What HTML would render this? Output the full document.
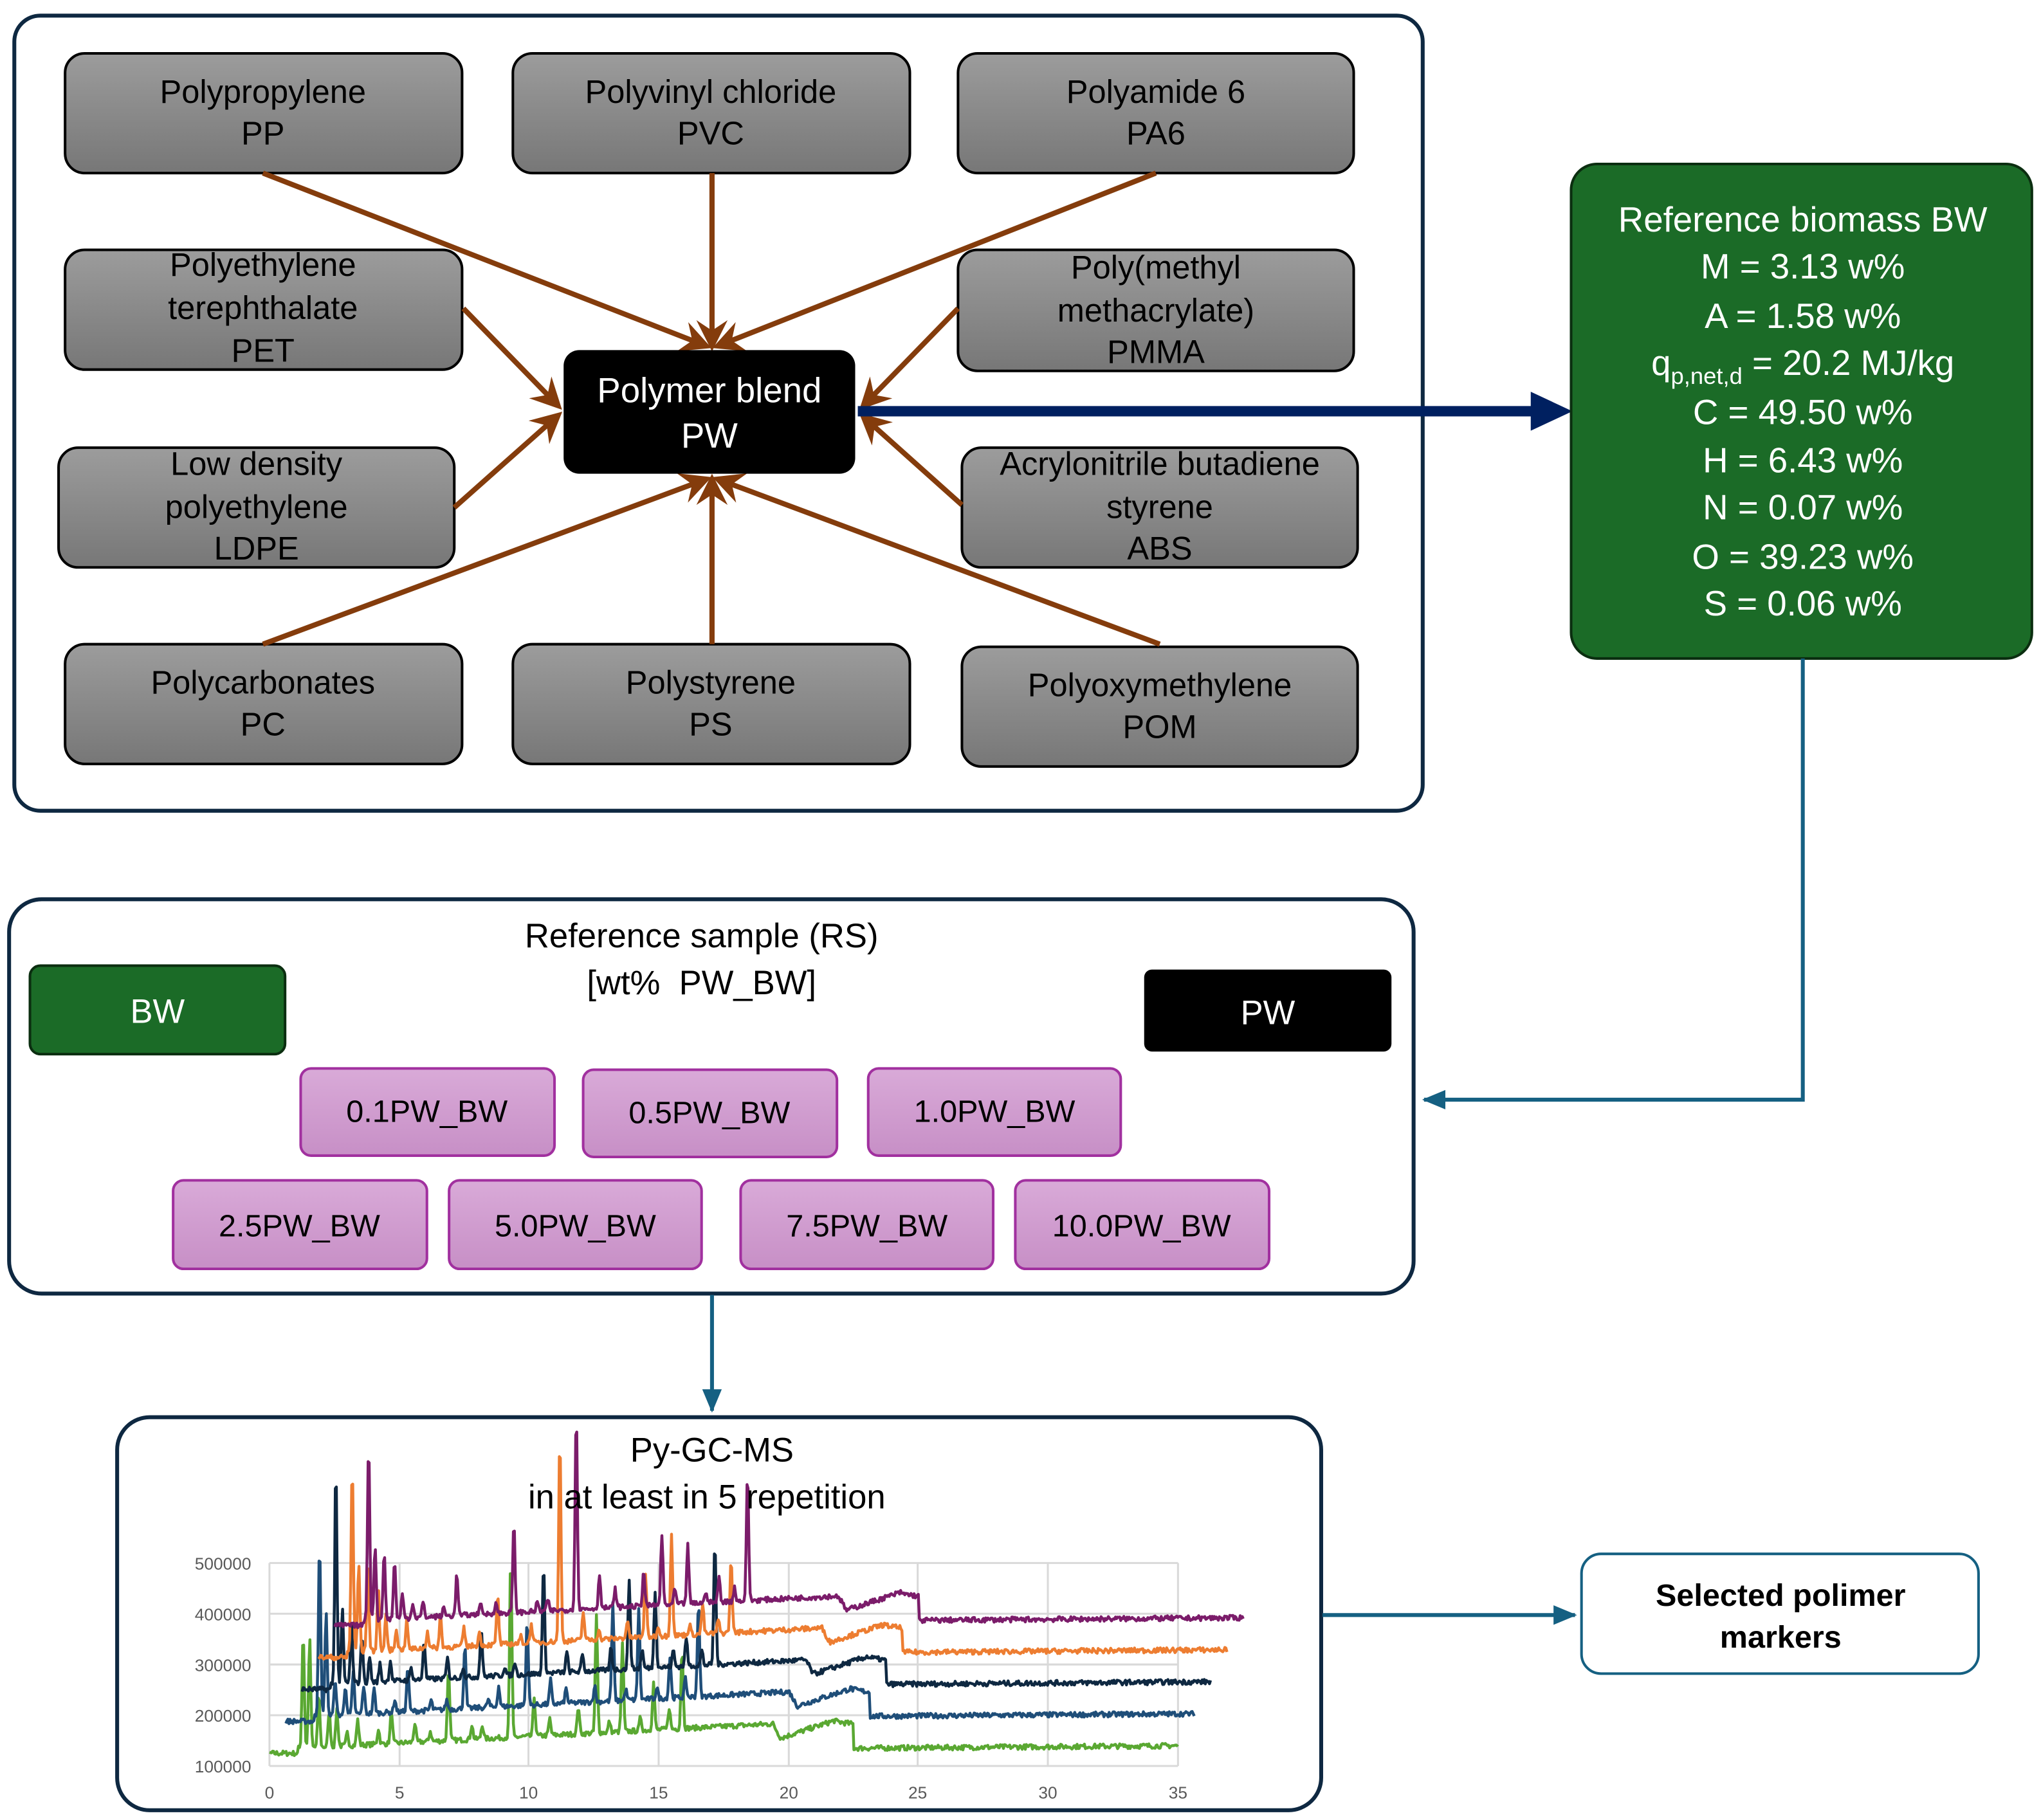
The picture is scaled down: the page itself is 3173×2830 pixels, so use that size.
<!DOCTYPE html>
<html><head><meta charset="utf-8"><style>
html,body{margin:0;padding:0;background:#fff;}
svg{display:block;}
text{font-family:"Liberation Sans",sans-serif;}
</style></head><body>
<svg id="s" width="3173" height="2830" viewBox="0 0 1568 1398.5" xmlns="http://www.w3.org/2000/svg">
<defs>
<linearGradient id="g" x1="0" y1="0" x2="0" y2="1"><stop offset="0" stop-color="#9c9c9c"/><stop offset="1" stop-color="#777"/></linearGradient>
<linearGradient id="pk" x1="0" y1="0" x2="0" y2="1"><stop offset="0" stop-color="#d9aad8"/><stop offset="1" stop-color="#c78fc6"/></linearGradient>
<marker id="ab" markerWidth="6" markerHeight="6" refX="5" refY="3" orient="auto" markerUnits="strokeWidth"><path d="M0,0 L6,3 L0,6 L2,3 z" fill="#843c0c"/></marker>
<marker id="at" markerWidth="6" markerHeight="6" refX="5.5" refY="3" orient="auto" markerUnits="strokeWidth"><path d="M0,0.5 L6,3 L0,5.5 z" fill="#156082"/></marker>
</defs>
<rect width="1568" height="1398.5" fill="#fff"/>
<rect x="11" y="12" width="1082" height="611" rx="20" fill="#fff" stroke="#0e2841" stroke-width="3"/>
<g stroke="#000" stroke-width="2" fill="url(#g)">
<rect x="50" y="41" width="305" height="92" rx="15"/>
<rect x="394" y="41" width="305" height="92" rx="15"/>
<rect x="736" y="41" width="304" height="92" rx="15"/>
<rect x="50" y="192" width="305" height="92" rx="15"/>
<rect x="736" y="192" width="304" height="93" rx="15"/>
<rect x="45" y="344" width="304" height="92" rx="15"/>
<rect x="739" y="344" width="304" height="92" rx="15"/>
<rect x="50" y="495" width="305" height="92" rx="15"/>
<rect x="394" y="495" width="305" height="92" rx="15"/>
<rect x="739" y="497" width="304" height="92" rx="15"/>
</g>
<g font-size="25" text-anchor="middle" fill="#000">
<text x="202" y="79">Polypropylene</text><text x="202" y="111">PP</text>
<text x="546" y="79">Polyvinyl chloride</text><text x="546" y="111">PVC</text>
<text x="888" y="79">Polyamide 6</text><text x="888" y="111">PA6</text>
<text x="202" y="212">Polyethylene</text><text x="202" y="245">terephthalate</text><text x="202" y="278">PET</text>
<text x="888" y="214">Poly(methyl</text><text x="888" y="247">methacrylate)</text><text x="888" y="279">PMMA</text>
<text x="197" y="365">Low density</text><text x="197" y="398">polyethylene</text><text x="197" y="430">LDPE</text>
<text x="891" y="365">Acrylonitrile butadiene</text><text x="891" y="398">styrene</text><text x="891" y="430">ABS</text>
<text x="202" y="533">Polycarbonates</text><text x="202" y="565">PC</text>
<text x="546" y="533">Polystyrene</text><text x="546" y="565">PS</text>
<text x="891" y="535">Polyoxymethylene</text><text x="891" y="567">POM</text>
</g>
<g stroke="#843c0c" stroke-width="4" marker-end="url(#ab)" fill="none">
<line x1="202" y1="133" x2="543" y2="266"/>
<line x1="547" y1="133" x2="547" y2="266"/>
<line x1="888" y1="133" x2="551" y2="266"/>
<line x1="356" y1="237" x2="429" y2="312"/>
<line x1="736" y1="237" x2="663" y2="312"/>
<line x1="349" y1="390" x2="429" y2="319"/>
<line x1="739" y1="388" x2="663" y2="320"/>
<line x1="202" y1="495" x2="543" y2="368"/>
<line x1="547" y1="495" x2="547" y2="368"/>
<line x1="891" y1="495" x2="551" y2="368"/>
</g>
<rect x="433" y="269" width="224" height="95" rx="12" fill="#000"/>
<text x="545" y="309" font-size="27" fill="#fff" text-anchor="middle">Polymer blend</text>
<text x="545" y="344" font-size="27" fill="#fff" text-anchor="middle">PW</text>
<line x1="659" y1="316" x2="1182" y2="316" stroke="#002060" stroke-width="8"/>
<path d="M1176,301 L1208,316 L1176,331 z" fill="#002060"/>
<rect x="1207" y="126" width="354" height="380" rx="20" fill="#1b6b27" stroke="#0b2e10" stroke-width="2"/>
<g font-size="27" fill="#fff" text-anchor="middle">
<text x="1385" y="178">Reference biomass BW</text>
<text x="1385" y="214">M = 3.13 w%</text>
<text x="1385" y="252">A = 1.58 w%</text>
<text x="1385" y="288">q<tspan font-size="18" dy="7">p,net,d</tspan><tspan dy="-7"> = 20.2 MJ/kg</tspan></text>
<text x="1385" y="326">C = 49.50 w%</text>
<text x="1385" y="363">H = 6.43 w%</text>
<text x="1385" y="399">N = 0.07 w%</text>
<text x="1385" y="437">O = 39.23 w%</text>
<text x="1385" y="473">S = 0.06 w%</text>
</g>
<polyline points="1385,506 1385,845 1094,845" fill="none" stroke="#156082" stroke-width="3" marker-end="url(#at)"/>
<rect x="7" y="691" width="1079" height="303" rx="25" fill="#fff" stroke="#0e2841" stroke-width="3"/>
<text x="539" y="728" font-size="26" text-anchor="middle">Reference sample (RS)</text>
<text x="539" y="764" font-size="26" text-anchor="middle" xml:space="preserve">[wt%  PW_BW]</text>
<rect x="23" y="742" width="196" height="68" rx="8" fill="#1b6b27" stroke="#0b2e10" stroke-width="2"/>
<text x="121" y="786" font-size="26" fill="#fff" text-anchor="middle">BW</text>
<rect x="879" y="745" width="190" height="63" rx="6" fill="#000"/>
<text x="974" y="787" font-size="26" fill="#fff" text-anchor="middle">PW</text>
<g fill="url(#pk)" stroke="#a1309f" stroke-width="2">
<rect x="231" y="821" width="195" height="67" rx="8"/>
<rect x="448" y="822" width="195" height="67" rx="8"/>
<rect x="667" y="821" width="194" height="67" rx="8"/>
<rect x="133" y="907" width="195" height="68" rx="8"/>
<rect x="345" y="907" width="194" height="68" rx="8"/>
<rect x="569" y="907" width="194" height="68" rx="8"/>
<rect x="780" y="907" width="195" height="68" rx="8"/>
</g>
<g font-size="24" text-anchor="middle">
<text x="328" y="862">0.1PW_BW</text>
<text x="545" y="863">0.5PW_BW</text>
<text x="764" y="862">1.0PW_BW</text>
<text x="230" y="950">2.5PW_BW</text>
<text x="442" y="950">5.0PW_BW</text>
<text x="666" y="950">7.5PW_BW</text>
<text x="877" y="950">10.0PW_BW</text>
</g>
<line x1="547" y1="995" x2="547" y2="1084" stroke="#156082" stroke-width="3" marker-end="url(#at)"/>
<rect x="90" y="1089" width="925" height="302" rx="25" fill="#fff" stroke="#0e2841" stroke-width="3"/>
<g id="chart">
<g stroke="#d9d9d9" stroke-width="1.5">
<line x1="207" y1="1201" x2="905" y2="1201"/><line x1="207" y1="1240" x2="905" y2="1240"/><line x1="207" y1="1279" x2="905" y2="1279"/><line x1="207" y1="1318" x2="905" y2="1318"/><line x1="207" y1="1357" x2="905" y2="1357"/>
<line x1="207" y1="1201" x2="207" y2="1357"/><line x1="307" y1="1201" x2="307" y2="1357"/><line x1="406" y1="1201" x2="406" y2="1357"/><line x1="506" y1="1201" x2="506" y2="1357"/><line x1="606" y1="1201" x2="606" y2="1357"/><line x1="705" y1="1201" x2="705" y2="1357"/><line x1="805" y1="1201" x2="805" y2="1357"/><line x1="905" y1="1201" x2="905" y2="1357"/>
</g>
<g font-size="13" fill="#595959" text-anchor="end">
<text x="193" y="1206">500000</text><text x="193" y="1245">400000</text><text x="193" y="1284">300000</text><text x="193" y="1323">200000</text><text x="193" y="1362">100000</text>
</g>
<g font-size="13" fill="#595959" text-anchor="middle">
<text x="207" y="1382">0</text><text x="307" y="1382">5</text><text x="406" y="1382">10</text><text x="506" y="1382">15</text><text x="606" y="1382">20</text><text x="705" y="1382">25</text><text x="805" y="1382">30</text><text x="905" y="1382">35</text>
</g>
<g id="traces" fill="none" stroke-width="2.2" stroke-linejoin="round"></g>
</g>
<text x="547" y="1123" font-size="26" text-anchor="middle">Py-GC-MS</text>
<text x="543" y="1159" font-size="26" text-anchor="middle">in at least in 5 repetition</text>
<line x1="1016" y1="1241" x2="1210" y2="1241" stroke="#156082" stroke-width="3" marker-end="url(#at)"/>
<rect x="1215" y="1194" width="305" height="92" rx="15" fill="#fff" stroke="#156082" stroke-width="2"/>
<text x="1368" y="1234" font-size="24" font-weight="bold" text-anchor="middle">Selected polimer</text>
<text x="1368" y="1266" font-size="24" font-weight="bold" text-anchor="middle">markers</text>
</svg>
<script>
(function(){
var seed=7;function r(){seed=(seed*16807)%2147483647;return seed/2147483647;}
var peaks=[[1.3,380000],[1.55,150000],[1.9,120000],[2.3,90000],[3.4,40000],[4.7,60000],[6.9,160000],[9.3,280000],[10.2,60000],[11.9,50000],[12.6,190000],[13.6,150000],[14.8,70000],[15.9,190000],[8.2,30000],[5.6,30000],[2.6,60000],[3.0,40000],[4.2,25000],[6.2,20000],[7.8,20000],[10.8,25000],[13.1,30000],[14.3,25000],[15.4,30000]];
function base(t){
 if(t<1.1)return 125000;
 if(t<19.4)return 135000+(t-1.1)/18.3*48000;
 if(t<19.7)return 183000-(t-19.4)/0.3*28000;
 if(t<21.8)return 155000+(t-19.7)/2.1*35000;
 if(t<22.5)return 188000-(t-21.8)*8000;
 return 135000+(t-22.5)*400;
}
var cols=["#5aa832","#1f4e79","#0e2841","#ed7d31","#7b1c6a"];
var g=document.getElementById("traces");var out="";
for(var i=0;i<5;i++){
 var dx=i*0.63,dy=i*63000,hs=[];
 for(var k=0;k<peaks.length;k++)hs.push(peaks[k][1]*(0.6+r()*0.9));
 var pts=[];
 for(var t=0;t<=35;t+=0.04){
  var v=base(t)+dy+(r()-0.5)*10000;
  for(var k=0;k<peaks.length;k++){var d=(t-peaks[k][0])/0.06;v+=hs[k]*Math.exp(-d*d);}
  var x=207+(t+dx)*19.94,y=1357-(v-100000)*0.00039;
  pts.push(x.toFixed(1)+","+y.toFixed(1));
 }
 out+='<polyline stroke="'+cols[i]+'" points="'+pts.join(" ")+'"/>';
}
g.innerHTML=out;
})();
</script>
</body></html>
